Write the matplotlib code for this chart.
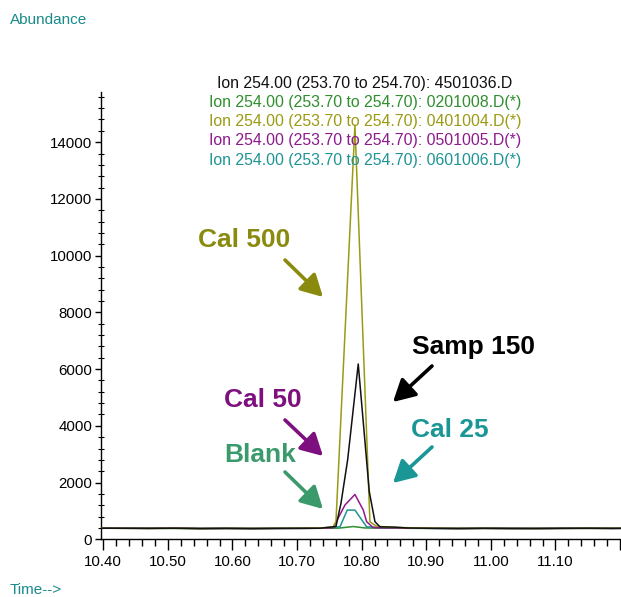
import matplotlib
matplotlib.use("Agg")
import matplotlib.pyplot as plt
from matplotlib.ticker import MultipleLocator, FuncFormatter

plt.rcParams['font.family'] = ['Liberation Sans', 'DejaVu Sans']

# Shared baseline sampling times (outside the elution window)
t_base = [10.39, 10.43, 10.47, 10.51, 10.55, 10.59, 10.63, 10.67, 10.71, 10.735,
          10.85, 10.87, 10.91, 10.95, 10.99, 11.03, 11.07, 11.11, 11.15, 11.19, 11.21]

# Baseline abundance for each run
base_samp150 = [392, 388, 384, 390, 380, 386, 378, 384, 388, 390,
                430, 400, 386, 380, 388, 384, 380, 386, 390, 384, 388]
base_blank = [396, 392, 388, 384, 376, 382, 380, 386, 384, 388,
              392, 388, 384, 378, 384, 380, 384, 388, 384, 386, 390]
base_cal500 = [390, 386, 382, 388, 378, 384, 382, 386, 390, 400,
               420, 410, 392, 384, 386, 382, 378, 384, 388, 386, 388]
base_cal50 = [394, 390, 386, 398, 380, 384, 380, 384, 386, 392,
              400, 392, 388, 382, 386, 380, 382, 386, 388, 384, 388]
base_cal25 = [398, 392, 388, 392, 382, 386, 382, 388, 390, 392,
              396, 390, 388, 384, 390, 384, 382, 388, 392, 388, 390]

# Scans across the peak for each run
peak_t_samp150 = [10.7602, 10.7680, 10.7783, 10.7947, 10.8118, 10.8206, 10.8283]
peak_v_samp150 = [450, 1270, 2800, 6180, 1680, 620, 440]

peak_t_blank = [10.765, 10.787, 10.805]
peak_v_blank = [395, 450, 400]

peak_t_cal500 = [10.7556, 10.7602, 10.7896, 10.8128, 10.8221, 10.8361]
peak_v_cal500 = [430, 620, 14600, 620, 470, 430]

peak_t_cal50 = [10.7556, 10.7742, 10.7896, 10.8025, 10.8077, 10.8180]
peak_v_cal50 = [400, 1210, 1580, 1030, 620, 410]

peak_t_cal25 = [10.7664, 10.7777, 10.7896, 10.8077]
peak_v_cal25 = [440, 1030, 1030, 440]

legend_lines = [
    "Ion 254.00 (253.70 to 254.70): 4501036.D",
    "Ion 254.00 (253.70 to 254.70): 0201008.D(*)",
    "Ion 254.00 (253.70 to 254.70): 0401004.D(*)",
    "Ion 254.00 (253.70 to 254.70): 0501005.D(*)",
    "Ion 254.00 (253.70 to 254.70): 0601006.D(*)",
]

c_black = "#111111"
c_green = "#2f8f2f"
c_olive = "#9a9a14"
c_purple = "#8e1a8e"
c_teal = "#1f9494"


def merge(tb, vb, tp, vp):
    pts = sorted(list(zip(tb, vb)) + list(zip(tp, vp)))
    return [p[0] for p in pts], [p[1] for p in pts]


W, H = 621, 597
fig = plt.figure(figsize=(W / 100, H / 100), dpi=100)
ax = fig.add_axes([100.7 / W, 1 - 539.3 / H, 1 - 100.7 / W, (539.3 - 91.7) / H])


def fpos(x, y):
    return (x / W, 1 - y / H)


series = [
    (base_blank, peak_t_blank, peak_v_blank, c_green),
    (base_cal25, peak_t_cal25, peak_v_cal25, c_teal),
    (base_cal50, peak_t_cal50, peak_v_cal50, c_purple),
    (base_cal500, peak_t_cal500, peak_v_cal500, c_olive),
    (base_samp150, peak_t_samp150, peak_v_samp150, c_black),
]
for vb, tp, vp, col in series:
    t, v = merge(t_base, vb, tp, vp)
    ax.plot(t, v, color=col, lw=1.1, zorder=3, clip_on=True)

ax.set_xlim(10.396, 11.2015)
ax.set_ylim(0, 15780)

for s in ("top", "right"):
    ax.spines[s].set_visible(False)
ax.spines["left"].set_linewidth(1.0)
ax.spines["bottom"].set_linewidth(1.0)

ax.xaxis.set_major_locator(MultipleLocator(0.1))
ax.xaxis.set_minor_locator(MultipleLocator(0.02))
ax.xaxis.set_major_formatter(
    FuncFormatter(lambda x, pos: "" if x > 11.15 else f"{x:.2f}"))
ax.yaxis.set_major_locator(MultipleLocator(2000))
ax.yaxis.set_minor_locator(MultipleLocator(400))
ax.tick_params(axis="x", which="major", direction="out", length=8, width=1,
               labelsize=10.8, pad=3)
ax.tick_params(axis="x", which="minor", direction="out", length=5, width=1)
ax.tick_params(axis="y", which="major", direction="out", length=4, width=1,
               labelsize=10.8, pad=2)
ax.tick_params(axis="y", which="minor", direction="inout", length=4, width=0.8)

# Trace header
ys = [83.3, 102.7, 121.7, 141.0, 160.0]
cols = [c_black, c_green, c_olive, c_purple, c_teal]
for txt, y, col in zip(legend_lines, ys, cols):
    fig.text(*fpos(365, y), txt, color=col, fontsize=11.4, ha="center",
             va="center", zorder=1)

fig.text(*fpos(10, 20), "Abundance", color="#1a8a8a", fontsize=11, ha="left",
         va="center")
fig.text(*fpos(10, 590), "Time-->", color="#1a8a8a", fontsize=11, ha="left",
         va="center")

# Callouts
callouts = [
    ("Cal 500", (244, 240), (285, 260), (323, 297), "#8a8a0e"),
    ("Samp 150", (474, 347), (432, 366), (393, 402), "#000000"),
    ("Cal 50", (263, 400), (285, 420), (323, 456), "#7e0f7e"),
    ("Blank", (260, 455), (285, 472), (323, 509), "#3a9a6c"),
    ("Cal 25", (450, 430), (432, 447), (393, 483), "#1a9696"),
]
for label, tpos, tail, tip, col in callouts:
    fig.text(*fpos(*tpos), label, color=col, fontsize=19, fontweight="bold",
             ha="center", va="center")
    ax.annotate("", xy=fpos(*tip), xytext=fpos(*tail),
                xycoords="figure fraction", textcoords="figure fraction",
                arrowprops=dict(arrowstyle="-|>,head_length=1.1,head_width=0.6",
                                mutation_scale=12, lw=2.6, color=col,
                                shrinkA=0, shrinkB=0))

fig.savefig("out.png", dpi=100)
